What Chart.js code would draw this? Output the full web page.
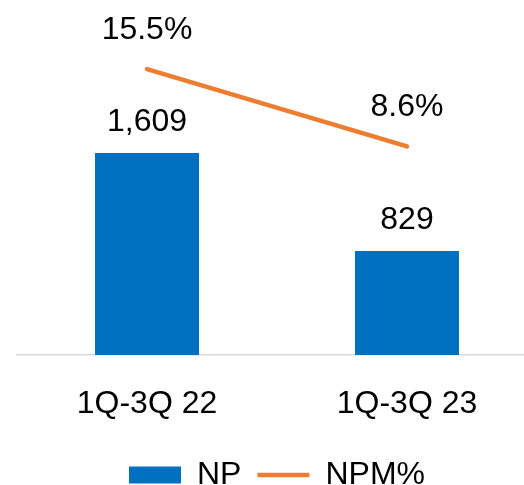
<!DOCTYPE html>
<html>
<head>
<meta charset="utf-8">
<script src="https://cdn.jsdelivr.net/npm/chart.js@4"></script>
<style>
  html, body { margin: 0; padding: 0; background: #fff; overflow: hidden; }
  #wrap { width: 540px; height: 501px; }
</style>
</head>
<body>
<div id="wrap"><canvas id="myChart"></canvas></div>
<script>
// data
const categories = ['1Q-3Q 22', '1Q-3Q 23'];
const npValues = [1609, 829];
const npmValues = [15.5, 8.6];

const FONT = 'Liberation Sans, Arial, sans-serif';

// values above bars and line points
const valueLabels = {
    id: 'valueLabels',
    afterDatasetsDraw(chart) {
        const ctx = chart.ctx;
        ctx.save();
        ctx.font = '32px ' + FONT;
        ctx.fillStyle = '#000';
        ctx.textAlign = 'center';
        ctx.textBaseline = 'alphabetic';
        chart.data.datasets.forEach(function (ds, i) {
            const meta = chart.getDatasetMeta(i);
            meta.data.forEach(function (el, j) {
                let txt, off;
                if (ds.type === 'line') {
                    txt = ds.data[j].toFixed(1) + '%';
                    off = 30;
                } else {
                    txt = ds.data[j].toLocaleString('en-US');
                    off = 22;
                }
                ctx.fillText(txt, el.x, el.y - off);
            });
        });
        ctx.restore();
    }
};

let myChart;
function chart() {
    const ctx = document.getElementById('myChart');
    if (myChart) {
        myChart.destroy();
    }
    myChart = new Chart(ctx, {
        type: 'bar',
        data: {
            labels: categories,
            datasets: [{
                type: 'line',
                label: 'NPM%',
                data: npmValues,
                yAxisID: 'y2',
                borderColor: '#ED7D31',
                backgroundColor: '#ED7D31',
                borderWidth: 4.5,
                borderCapStyle: 'round',
                pointRadius: 0,
                order: 0
            }, {
                type: 'bar',
                label: 'NP',
                data: npValues,
                yAxisID: 'y',
                backgroundColor: '#0070C0',
                borderWidth: 0,
                categoryPercentage: 1,
                barPercentage: 0.4,
                order: 1
            }]
        },
        options: {
            responsive: true,
            maintainAspectRatio: false,
            animation: false,
            layout: { padding: { left: 17, right: 3, top: 41, bottom: 0 } },
            scales: {
                x: {
                    grid: { display: false, drawTicks: false },
                    border: { display: true, color: '#d9d9d9', width: 1.5 },
                    ticks: { color: '#000', padding: 30, font: { family: FONT, size: 32 } },
                    afterFit: function (scale) {
                        scale.height = 88;
                    }
                },
                y: { display: false, min: 0, max: 2500 },
                y2: { display: false, min: -10, max: 18 }
            },
            plugins: {
                tooltip: { enabled: false },
                legend: {
                    position: 'bottom',
                    reverse: true,
                    labels: {
                        color: '#000',
                        font: { family: FONT, size: 32 },
                        usePointStyle: true,
                        pointStyleWidth: 52,
                        boxHeight: 17,
                        padding: 16,
                        generateLabels: function (c) {
                            const items = Chart.defaults.plugins.legend.labels.generateLabels(c);
                            items.forEach(function (it) {
                                it.pointStyle = it.text === 'NP' ? 'rect' : 'line';
                            });
                            return items;
                        }
                    }
                }
            }
        },
        plugins: [valueLabels]
    });
}
chart();
</script>
</body>
</html>
